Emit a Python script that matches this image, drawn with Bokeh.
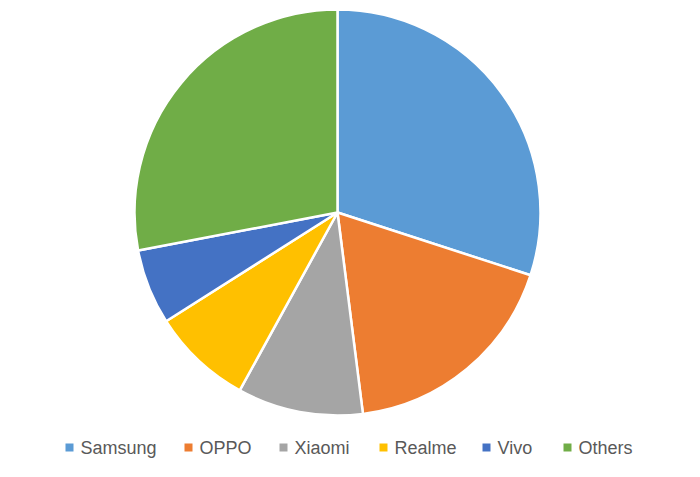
import numpy as np
from bokeh.plotting import figure
from bokeh.models import ColumnDataSource, Range1d
from bokeh.core.properties import value
from bokeh.embed import file_html
from bokeh.resources import INLINE

# Data
brands = ["Samsung", "OPPO", "Xiaomi", "Realme", "Vivo", "Others"]
shares = [30, 18, 10, 8, 6, 28]
colors = ["#5B9BD5", "#ED7D31", "#A5A5A5", "#FFC000", "#4472C4", "#70AD47"]

W, H = 684, 461
p = figure(width=W, height=H, output_backend="svg", toolbar_location=None,
           x_range=Range1d(0, W), y_range=Range1d(0, H), min_border=0,
           outline_line_color=None)
p.axis.visible = False
p.grid.visible = False

vals = np.array(shares, dtype=float)
frac = vals / vals.sum()
cum = np.concatenate([[0], np.cumsum(frac)])
start = np.pi / 2 - 2 * np.pi * cum[:-1]
end = np.pi / 2 - 2 * np.pi * cum[1:]

cx, cy, r = 337, H - 212, 203
src = ColumnDataSource(dict(start=start, end=end, color=colors, brand=brands))
p.wedge(x=cx, y=cy, radius=r, start_angle="start", end_angle="end",
        direction="clock", fill_color="color", line_color="white",
        line_width=2.5, source=src)

# Legend (custom)
text_x = [80, 199, 294, 394, 497, 578]
ly = H - 447
leg = ColumnDataSource(dict(sx=[x - 11 for x in text_x], tx=text_x, y=[ly] * 6,
                            color=colors, brand=brands))
p.scatter(x="sx", y="y", marker="square", size=8, fill_color="color",
          line_color=None, source=leg)
p.text(x="tx", y="y", text="brand", source=leg, text_baseline="middle",
       text_font=value("Liberation Sans"), text_font_size="18px",
       text_color="#595959")

open("out.html", "w").write(file_html(p, INLINE))
